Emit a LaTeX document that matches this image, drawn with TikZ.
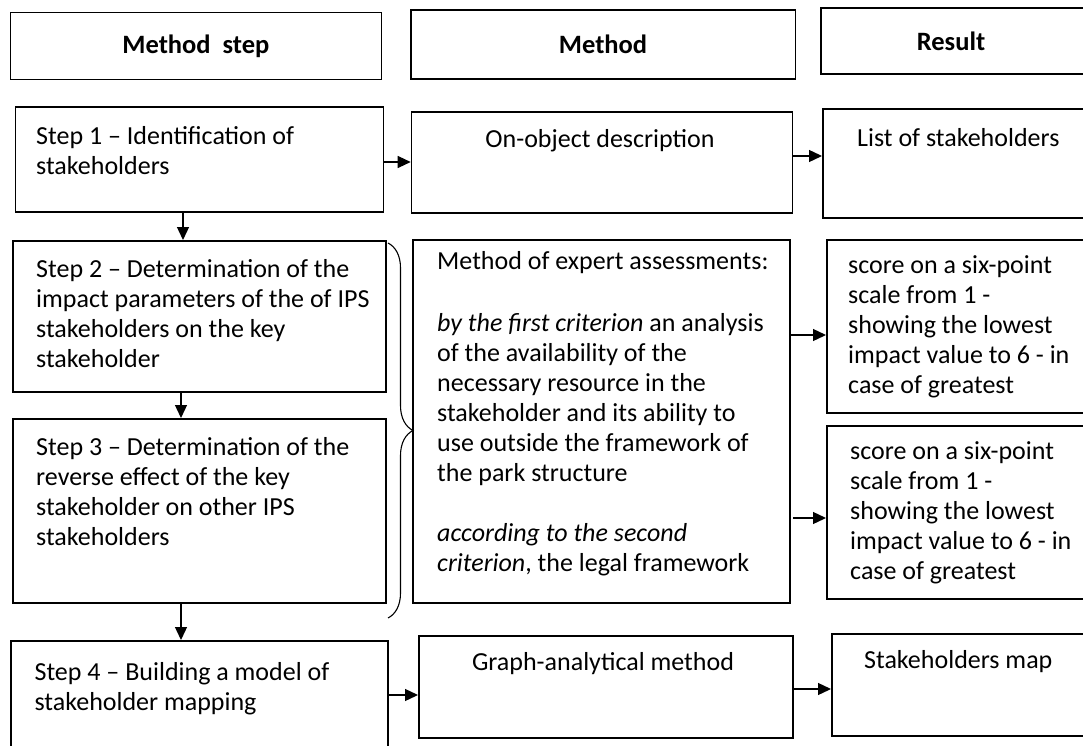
\documentclass[tikz,border=0pt]{standalone}
\usepackage{fontspec}
\setmainfont{Carlito}
\usetikzlibrary{arrows.meta,decorations.pathreplacing}
\newcommand\fsz{\fontsize{26}{30}\selectfont}
\newcommand\hsz{\fontsize{26.5}{30}\selectfont}
\newcommand\fr{\rule{0pt}{21pt}}
\begin{document}
\begin{tikzpicture}[x=1pt,y=-1pt,
  box/.style={draw, line width=1.6pt, rectangle, inner sep=0pt, anchor=north west},
  hdr/.style={font=\hsz\bfseries},
  txt/.style={anchor=north west, inner sep=0pt, align=left, font=\fsz},
  ctxt/.style={anchor=north, inner sep=0pt, align=center, font=\fsz},
  arr/.style={line width=1.3pt, -{Triangle[length=13pt,width=12pt]}},
  brc/.style={line width=1.1pt, decorate, decoration={brace, amplitude=25pt}}]
\useasboundingbox (0,0) rectangle (1083,746);
\clip (0,0) rectangle (1083,746);
\fill[white] (0,0) rectangle (1083,746);
% headers
\node[box, hdr, minimum width=371pt, minimum height=67pt] (hms) at (9.6,11.6) {Method\ \ step};
\node[box, hdr, minimum width=384.5pt, minimum height=69pt] (hm) at (410,9.4) {Method};
\node[box, minimum width=275pt, minimum height=66pt] (hr) at (820,7.4) {};
\node[hdr, inner sep=0pt] (hrt) at (951,41) {Result};
% row 1
\node[box, minimum width=368pt, minimum height=105pt] (s1) at (14.5,106) {};
\node[box, minimum width=381pt, minimum height=100.5pt] (oo) at (410.7,111.5) {};
\node[box, minimum width=273pt, minimum height=109pt] (ls) at (822,108) {};
% rows 2-3
\node[box, minimum width=373pt, minimum height=151pt] (s2) at (12,240) {};
\node[box, minimum width=373pt, minimum height=184pt] (s3) at (12,418) {};
\node[box, minimum width=377pt, minimum height=363pt] (ex) at (412,239) {};
\node[box, minimum width=269pt, minimum height=173pt] (sc1) at (826,239) {};
\node[box, minimum width=269pt, minimum height=173pt] (sc2) at (826,425) {};
% row 4
\node[box, minimum width=377pt, minimum height=130pt] (s4) at (10,640) {};
\node[box, minimum width=374pt, minimum height=102pt] (gr) at (418,635) {};
\node[box, minimum width=264pt, minimum height=102pt] (mp) at (831,633) {};
% texts
\node[txt] (s1t) at (36,123) {\fr Step 1 – Identification of\\stakeholders};
\node[ctxt] (oot) at (600,126) {\fr On-object description};
\node[txt] (lst) at (857,125) {\fr List of stakeholders};
\node[txt] (s2t) at (36,256.5) {\fr Step 2 – Determination of the\\impact parameters of the of IPS\\stakeholders on the key\\stakeholder};
\node[txt] (s3t) at (36,434) {\fr Step 3 – Determination of the\\reverse effect of the key\\stakeholder on other IPS\\stakeholders};
\node[txt] (ext) at (437,248.5) {\fr Method of expert assessments:\\[32pt]
  \textit{by the first criterion} an analysis\\of the availability of the\\necessary resource in the\\stakeholder and its ability to\\use outside the framework of\\the park structure\\[30pt]
  \textit{according to the second}\\\textit{criterion}, the legal framework};
\node[txt] (sc1t) at (848,252) {\fr score on a six-point\\scale from 1 -\\showing the lowest\\impact value to 6 - in\\case of greatest};
\node[txt] (sc2t) at (850,438.5) {\fr score on a six-point\\scale from 1 -\\showing the lowest\\impact value to 6 - in\\case of greatest};
\node[txt] (s4t) at (34.4,659.5) {\fr Step 4 – Building a model of\\stakeholder mapping};
\node[ctxt] (grt) at (603,649) {\fr Graph-analytical method};
\node[txt] (mpt) at (864,647) {\fr Stakeholders map};
% connectors
\coordinate (y1) at (0,162);
\coordinate (y2) at (0,156);
\coordinate (xa) at (183,0);
\coordinate (xb) at (181,0);
\coordinate (y3) at (0,335);
\coordinate (e2) at (793,518);
\coordinate (y5) at (0,695);
\coordinate (y6) at (0,689);
\draw[arr] (s1.east |- y1) -- (oo.west |- y1);
\draw[arr] (oo.east |- y2) -- (ls.west |- y2);
\draw[arr] (s1.south -| xa) -- (s2.north -| xa);
\draw[arr] (s2.south -| xb) -- (s3.north -| xb);
\draw[arr] (s3.south -| xb) -- (s4.north -| xb);
\draw[arr] (ex.east |- y3) -- (sc1.west |- y3);
\draw[arr] (e2) -- (sc2.west |- e2);
\draw[arr] (s4.east |- y5) -- (gr.west |- y5);
\draw[arr] (gr.east |- y6) -- (mp.west |- y6);
\coordinate (b1) at (388,243);
\coordinate (b2) at (388,618);
\draw[brc] (b1) -- (b2);
\end{tikzpicture}
\end{document}
